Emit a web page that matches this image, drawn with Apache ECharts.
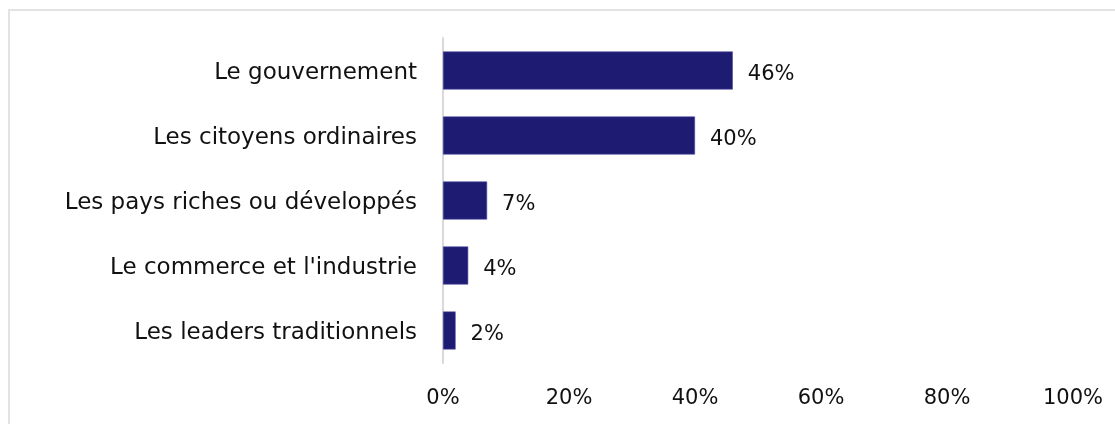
<!DOCTYPE html>
<html>
<head>
<meta charset="utf-8">
<script src="https://cdn.jsdelivr.net/npm/echarts@6/dist/echarts.min.js"></script>
<style>
html,body{margin:0;padding:0;background:#fff;}
#frame{position:absolute;left:8px;top:9px;width:1200px;height:500px;border:2px solid #e3e3e3;box-sizing:border-box;}
#chart{position:absolute;left:0;top:0;width:1115px;height:424px;}
</style>
</head>
<body>
<div id="frame"></div>
<div id="chart"></div>
<script>
const categories = ["Le gouvernement","Les citoyens ordinaires","Les pays riches ou développés","Le commerce et l'industrie","Les leaders traditionnels"];
const values = [46, 40, 7, 4, 2];
const tickLabels = ["0%","20%","40%","60%","80%","100%"];

const chart = echarts.init(document.getElementById('chart'), null, {renderer:'canvas'});
const font = "'DejaVu Sans', sans-serif";
chart.setOption({
  animation:false,
  grid:{left:443, right:42, top:38, bottom:61, containLabel:false},
  xAxis:{
    type:'value', min:0, max:100, interval:20,
    axisLine:{show:false}, axisTick:{show:false}, splitLine:{show:false},
    axisLabel:{margin:25, fontSize:21, color:'#111', fontFamily:font,
      formatter:(v)=>tickLabels[Math.round(v/20)]}
  },
  yAxis:{
    type:'category', data:categories, inverse:true,
    axisLine:{show:true, lineStyle:{color:'#d9d9d9', width:2}},
    axisTick:{show:false},
    axisLabel:{margin:26, color:'#111', fontFamily:font,
      formatter:(v)=>'{c|'+v+'}',
      rich:{c:{fontSize:23, color:'#111', fontFamily:font, padding:[6,0,0,0]}}}
  },
  series:[{
    type:'bar', data:values, barWidth:38,
    itemStyle:{color:'#1e1b72', borderColor:'#4a48a0', borderWidth:0.6},
    label:{show:true, position:'right', distance:15, fontSize:21, color:'#111', fontFamily:font,
      offset:[0,4], formatter:(p)=>p.value+'%'}
  }]
});
</script>
</body>
</html>
